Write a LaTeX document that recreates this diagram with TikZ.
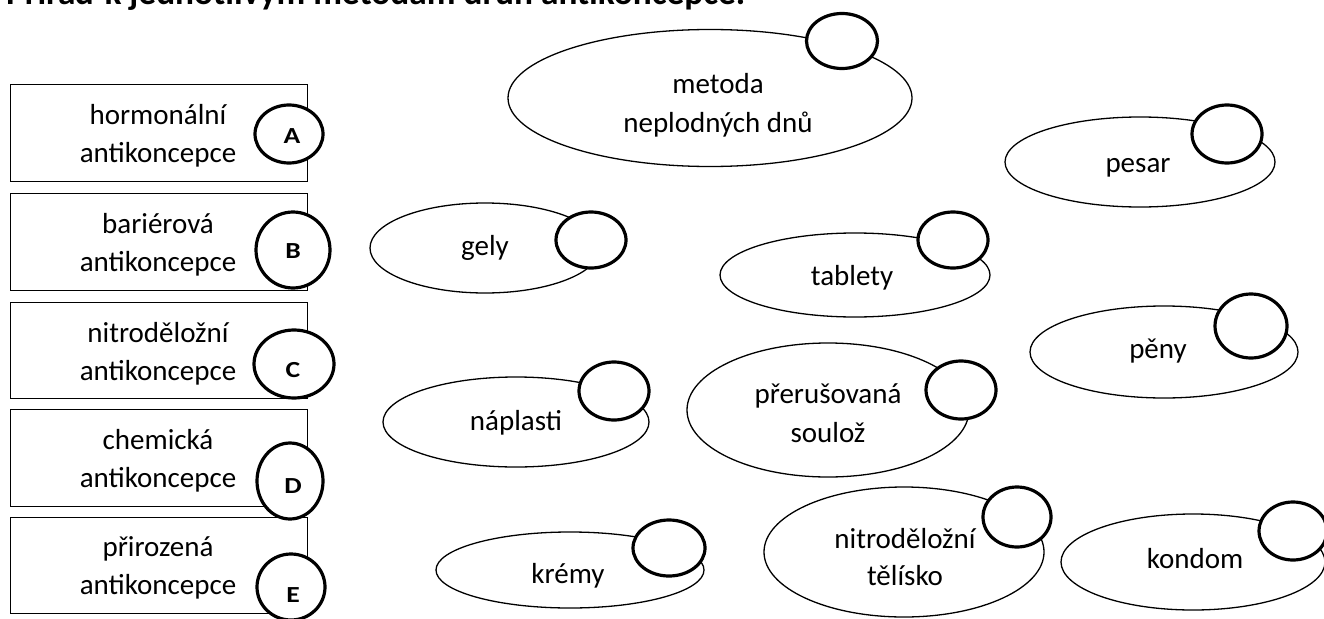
\documentclass[tikz,border=0pt]{standalone}
\usepackage{fontspec}
\setmainfont{Carlito}
\usetikzlibrary{shapes.geometric}
\tikzset{
  oval/.style={ellipse, draw, line width=1.3pt, inner sep=0pt},
  tag/.style={ellipse, draw, line width=3.2pt, fill=white, inner sep=0pt},
  card/.style={draw, line width=1.3pt, inner sep=0pt, minimum width=297pt, minimum height=97pt, anchor=north west},
  lbl/.style={font=\fontsize{29}{35}\selectfont, anchor=base, inner sep=0pt},
  letter/.style={font=\bfseries\fontsize{23}{27}\selectfont, anchor=base, inner sep=0pt},
  ttl/.style={font=\bfseries\fontsize{29}{35}\selectfont, anchor=base west, inner sep=0pt}
}
\newcommand{\wideletter}[1]{\scalebox{1.2}[1]{#1}}
\begin{document}
\begin{tikzpicture}[x=1pt,y=-1pt]
\useasboundingbox (0,0) rectangle (1324,618);
\clip (0,0) rectangle (1324,618);

% title (cut off at top)
\node[ttl] (title) at (6,5) {\resizebox{739pt}{!}{Přiřaď k jednotlivým metodám druh antikoncepce.}};

% boxes
\node[card] (boxA) at (10,84) {};
\node[card] (boxB) at (10,193) {};
\node[card, minimum height=96pt] (boxC) at (10,302) {};
\node[card] (boxD) at (10,409) {};
\node[card, minimum height=96pt] (boxE) at (10,517) {};

\node[lbl] (tA1) at (158,124) {hormonální};
\node[lbl] (tA2) at (158,162) {antikoncepce};
\node[lbl] (tB1) at (158,233) {bariérová};
\node[lbl] (tB2) at (158,271) {antikoncepce};
\node[lbl] (tC1) at (158,342) {nitroděložní};
\node[lbl] (tC2) at (158,380) {antikoncepce};
\node[lbl] (tD1) at (158,449) {chemická};
\node[lbl] (tD2) at (158,487) {antikoncepce};
\node[lbl] (tE1) at (158,556) {přirozená};
\node[lbl] (tE2) at (158,594) {antikoncepce};

\node[tag, minimum width=68pt, minimum height=58pt] (cA) at (289,134) {};
\node[tag, minimum width=74pt, minimum height=76pt] (cB) at (293,250) {};
\node[tag, minimum width=80pt, minimum height=68pt] (cC) at (294,364) {};
\node[tag, minimum width=66pt, minimum height=76pt] (cD) at (290,481) {};
\node[tag, minimum width=68pt, minimum height=66pt] (cE) at (291,587) {};

\node[letter] (lA) at (292,143) {\wideletter{A}};
\node[letter] (lB) at (293,258) {\wideletter{B}};
\node[letter] (lC) at (293,377) {\wideletter{C}};
\node[letter] (lD) at (293,493) {\wideletter{D}};
\node[letter] (lE) at (293,602) {\wideletter{E}};

% ovals
\node[oval, minimum width=404pt, minimum height=137pt] (oMet) at (710,98) {};
\node[oval, minimum width=230pt, minimum height=90pt] (oGel) at (485,248) {};
\node[oval, minimum width=270pt, minimum height=84pt] (oTab) at (855,275) {};
\node[oval, minimum width=270pt, minimum height=90pt] (oPes) at (1140,162) {};
\node[oval, minimum width=268pt, minimum height=92pt] (oPen) at (1164,352) {};
\node[oval, minimum width=266pt, minimum height=90pt] (oNap) at (516,422) {};
\node[oval, minimum width=282pt, minimum height=134pt] (oPre) at (828,410) {};
\node[oval, minimum width=268pt, minimum height=76pt] (oKre) at (570,570) {};
\node[oval, minimum width=280pt, minimum height=130pt] (oNit) at (904,552) {};
\node[oval, minimum width=264pt, minimum height=96pt] (oKon) at (1193,562) {};

% answer circles
\node[tag, minimum width=71pt, minimum height=55pt] (cMet) at (842,41) {};
\node[tag, minimum width=70pt, minimum height=56pt] (cGel) at (591,240) {};
\node[tag, minimum width=70pt, minimum height=56pt] (cTab) at (953,240) {};
\node[tag, minimum width=70pt, minimum height=58pt] (cPes) at (1227,134) {};
\node[tag, minimum width=72pt, minimum height=64pt] (cPen) at (1251,326) {};
\node[tag, minimum width=70pt, minimum height=58pt] (cNap) at (614,391) {};
\node[tag, minimum width=70pt, minimum height=58pt] (cPre) at (961,390) {};
\node[tag, minimum width=72pt, minimum height=56pt] (cKre) at (669,548) {};
\node[tag, minimum width=68pt, minimum height=60pt] (cNit) at (1017,517) {};
\node[tag, minimum width=68pt, minimum height=58pt] (cKon) at (1293,531) {};

% oval texts
\node[lbl] (xMet1) at (718,93) {metoda};
\node[lbl] (xMet2) at (718,132) {neplodných dnů};
\node[lbl] (xGel) at (485,255) {gely};
\node[lbl] (xTab) at (852,285) {tablety};
\node[lbl] (xPes) at (1138,172) {pesar};
\node[lbl] (xPen) at (1158,358) {pěny};
\node[lbl] (xNap) at (516,430) {náplasti};
\node[lbl] (xPre1) at (828,403) {přerušovaná};
\node[lbl] (xPre2) at (828,442) {soulož};
\node[lbl] (xKre) at (568,583) {krémy};
\node[lbl] (xNit1) at (905,548) {nitroděložní};
\node[lbl] (xNit2) at (905,585) {tělísko};
\node[lbl] (xKon) at (1195,568) {kondom};
\end{tikzpicture}
\end{document}
